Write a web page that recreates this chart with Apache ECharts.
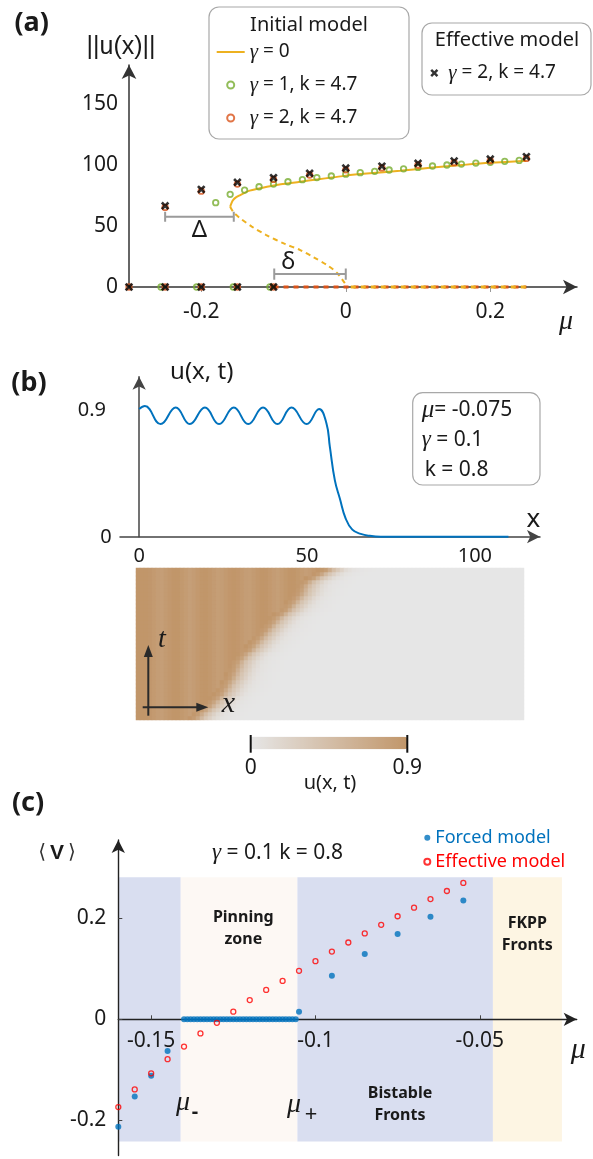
<!DOCTYPE html>
<html><head><meta charset="utf-8">
<script src="https://cdn.jsdelivr.net/npm/echarts@6.0.0/dist/echarts.min.js"></script>
<style>html,body{margin:0;padding:0;background:#fff}#c{width:593px;height:1159px}</style>
</head><body><div id="c"></div>
<script>
// ================= DATA =================
// ---- Panel (a): ||u(x)|| vs mu ----
const muG0Stable   = [-0.160,-0.158,-0.156,-0.152,-0.146,-0.140,-0.133,-0.120,-0.109,-0.090,-0.063,-0.040,-0.017,0.000,0.029,0.075,0.120,0.161,0.200,0.250];
const uG0Stable    = [65.8,69.0,71.3,73.5,75.4,77.2,79.0,80.8,82.2,84.2,86.3,88.2,89.9,91.3,93.0,95.3,97.9,100.0,101.8,103.5];
const muG0Unstable = [-0.160,-0.155,-0.146,-0.130,-0.110,-0.085,-0.063,-0.045,-0.026,-0.012,0.000];
const uG0Unstable  = [65.8,61.0,56.3,49.5,42.6,35.5,30.3,24.5,18.0,11.5,2.0];
const muG0Zero     = [0.0, 0.25];
const uG0Zero      = [0, 0];
const muG2Zero     = [-0.1, 0.25];
const uG2Zero      = [0, 0];
const muG1 = [-0.18,-0.16,-0.14,-0.12,-0.10,-0.08,-0.06,-0.04,-0.02,0.00,0.02,0.04,0.06,0.08,0.10,0.12,0.14,0.16,0.18,0.20,0.22,0.24,-0.2557,-0.2064,-0.1557,-0.105];
const uG1  = [69.1,76.0,79.5,82.2,84.4,86.3,88.0,89.7,91.0,92.5,93.7,94.8,95.9,96.9,98.0,99.2,100.0,100.8,101.6,102.2,103.0,103.8,0,0,0,0];
const muG2 = [-0.25,-0.2,-0.15,-0.1,-0.05,0,0.05,0.1,0.15,0.2,0.25,-0.3,-0.25,-0.2,-0.15,-0.1];
const uG2  = [65.2,78.6,84.4,88.2,91.8,96.1,97.6,100.0,101.9,103.5,105.4,0,0,0,0,0];
const muEff = [-0.25,-0.2,-0.15,-0.1,-0.05,0,0.05,0.1,0.15,0.2,0.25,-0.3,-0.25,-0.2,-0.15,-0.1];
const uEff  = [66.6,80.0,85.8,89.6,93.2,97.5,99.0,101.4,103.3,104.9,106.8,0,0,0,0,0];
const bracketDeltaMu = [-0.25,-0.25,-0.25,-0.155,-0.155,-0.155];
const bracketDeltaU  = [61.7,53.5,57.6,57.6,61.7,53.5];
const bracketSmallMu = [-0.099,-0.099,-0.099,0.0,0.0,0.0];
const bracketSmallU  = [15.2,6.0,10.7,10.7,15.2,6.0];
const ticksAx = [-0.2, 0, 0.2];
const ticksAy = [0, 50, 100, 150];

// ---- Panel (b): profile u(x,t) and space-time map ----
const xProfile = [0,1.7,6.4,10.9,15.1,19.6,23.8,28.2,32.5,36.9,41.2,45.4,49.9,53.6,55.8,56.8,58.3,59.8,61.5,63.5,66,68.7,72,80,110];
const uProfile = [0.907,0.928,0.80,0.918,0.80,0.918,0.80,0.918,0.80,0.918,0.80,0.918,0.80,0.907,0.805,0.64,0.40,0.27,0.13,0.05,0.02,0.006,0,0,0];
const ticksBx = [0, 50, 100];
const ticksBy = [0.9];
// front position (x) for each time row of the space-time map, bottom (t=0) to top
const frontRows = [19,20,21.5,23,24,25.3,26.5,27.3,28,28.7,29.5,30,30.5,31,31.5,32.5,33.5,35,36,37,38,39,40,41,42,43,44.5,46,47,48,49,50,50.5,51,52,54,56,58];
const heatColors = ['#e6e6e6', '#c1966a'];

// ---- Panel (c): <V> vs mu ----
const muForced = [-0.160,-0.155,-0.150,-0.145,-0.105,-0.095,-0.085,-0.075,-0.065,-0.055];
const vForced  = [-0.213,-0.153,-0.112,-0.063,0.015,0.086,0.129,0.169,0.203,0.235];
const muPinned = [-0.140,-0.139,-0.138,-0.137,-0.136,-0.135,-0.134,-0.133,-0.132,-0.131,-0.130,-0.129,-0.128,-0.127,-0.126,-0.125,-0.124,-0.123,-0.122,-0.121,-0.120,-0.119,-0.118,-0.117,-0.116,-0.115,-0.114,-0.113,-0.112,-0.111,-0.110,-0.109,-0.108,-0.107,-0.106];
const vPinned  = [0,0,0,0,0,0,0,0,0,0,0,0,0,0,0,0,0,0,0,0,0,0,0,0,0,0,0,0,0,0,0,0,0,0,0];
const muEffC = [-0.160,-0.155,-0.150,-0.145,-0.140,-0.135,-0.130,-0.125,-0.120,-0.115,-0.110,-0.105,-0.100,-0.095,-0.090,-0.085,-0.080,-0.075,-0.070,-0.065,-0.060,-0.055];
const vEffC  = [-0.174,-0.139,-0.107,-0.079,-0.054,-0.028,-0.007,0.015,0.038,0.058,0.076,0.096,0.115,0.134,0.152,0.170,0.187,0.204,0.221,0.238,0.254,0.270];
const zoneStart  = [-0.160,-0.141,-0.1055,-0.046];
const zoneEnd    = [-0.141,-0.1055,-0.046,-0.025];
const zoneColors = ['#d9def0','#fdf8f4','#d9def0','#fdf5e3'];
const zoneTop = 0.281, zoneBottom = -0.242;
const ticksCx = [-0.15, -0.1, -0.05];
const ticksCy = [-0.2, 0, 0.2];

// ================= HELPERS =================
const FONT = '"Noto Sans", sans-serif';
const SERIF = '"Liberation Serif", "DejaVu Serif", serif';
const INK = '#1a1a1a';
const zip = (a, b) => a.map((v, i) => [v, b[i]]);
function interp(xs, ys, x) {
  if (x <= xs[0]) return ys[0];
  if (x >= xs[xs.length - 1]) return ys[ys.length - 1];
  for (let i = 1; i < xs.length; i++) {
    if (x <= xs[i]) { const t = (x - xs[i-1]) / (xs[i] - xs[i-1]); return ys[i-1] + t * (ys[i] - ys[i-1]); }
  }
  return 0;
}
const xPath = 'path://M2.2,0L5,2.8L7.8,0L10,2.2L7.2,5L10,7.8L7.8,10L5,7.2L2.2,10L0,7.8L2.8,5L0,2.2Z';
// thin horizontal bar icon (tiny corner points keep a 28x7 bounding box)
const lineIcon = 'path://M0,0L0.01,0L0,0.01Z M0,2.5L28,2.5L28,4.5L0,4.5Z M28,7L27.99,7L28,6.99Z';

// space-time map cells built from the read profile and read front positions
const heatCols = 97, heatX0 = -0.4, heatDX = 1.1916;
const heatColIdx = Array.from({length: heatCols}, (_, i) => i);
const heatRowIdx = frontRows.map((_, i) => i);
const frontTop = frontRows[frontRows.length - 1];
const plateauEnd = xProfile[13];
const heatData = [];
heatRowIdx.forEach(r => {
  const shift = frontTop - frontRows[r];
  heatColIdx.forEach(c => {
    const x = heatX0 + c * heatDX;
    const u = (x + shift >= plateauEnd) ? interp(xProfile, uProfile, x + shift) : interp(xProfile, uProfile, x);
    heatData.push([c, r, +u.toFixed(3)]);
  });
});

function arrowLine(color, w, size, onZero) {
  return { show: true, onZero: !!onZero, symbol: ['none', 'arrow'], symbolSize: size || [11, 14], lineStyle: { color: color, width: w } };
}
function T(x, y, text, o) {
  o = o || {};
  return { type: 'text', x: x, y: y, z: 50, silent: true,
    style: { text: text, fill: o.fill || INK, fontSize: o.size || 20, fontFamily: o.family || FONT,
      fontWeight: o.weight || 'normal', fontStyle: o.style || 'normal', align: o.align || 'center', verticalAlign: 'middle',
      lineHeight: o.lh, rich: o.rich } };
}
const gRich = (size) => ({ g: { fontFamily: SERIF, fontStyle: 'italic', fontSize: size + 2, fill: INK },
                            m: { fontFamily: SERIF, fontStyle: 'italic', fontSize: size + 4, fill: INK } });

// ================= OPTION =================
const YEL = '#edb120', GRN = '#77ac30', ORG = '#d95319', BLU = '#0072bd', RED = '#ff0000';

const series = [
  // ---- (a)
  { name: 'γ0 unstable', type: 'line', xAxisIndex: 0, yAxisIndex: 0, data: zip(muG0Unstable, uG0Unstable), smooth: 0.3, symbol: 'none',
    lineStyle: { color: YEL, width: 2, type: [5, 4] }, z: 3, clip: false },
  { name: 'γ2 zero', type: 'line', xAxisIndex: 0, yAxisIndex: 0, data: zip(muG2Zero, uG2Zero), symbol: 'none',
    lineStyle: { color: ORG, width: 3, type: [5, 5] }, z: 3, clip: false },
  { name: 'γ0 zero', type: 'line', xAxisIndex: 0, yAxisIndex: 0, data: zip(muG0Zero, uG0Zero), symbol: 'none',
    lineStyle: { color: YEL, width: 3, type: [5, 5], dashOffset: 5 }, z: 3, clip: false },
  { name: 'γ = 0', type: 'line', xAxisIndex: 0, yAxisIndex: 0, data: zip(muG0Stable, uG0Stable), smooth: 0.3, symbol: 'none',
    itemStyle: { color: YEL }, lineStyle: { color: YEL, width: 2 }, z: 3 },
  { name: 'Δ bracket', type: 'line', xAxisIndex: 0, yAxisIndex: 0, data: zip(bracketDeltaMu, bracketDeltaU), symbol: 'none',
    lineStyle: { color: '#9b9b9b', width: 2 }, z: 3 },
  { name: 'δ bracket', type: 'line', xAxisIndex: 0, yAxisIndex: 0, data: zip(bracketSmallMu, bracketSmallU), symbol: 'none',
    lineStyle: { color: '#9b9b9b', width: 2 }, z: 3 },
  { name: 'γ = 1, k = 4.7', type: 'scatter', xAxisIndex: 0, yAxisIndex: 0, data: zip(muG1, uG1), symbol: 'circle', symbolSize: 5.5,
    itemStyle: { color: 'rgba(255,255,255,0)', borderColor: GRN, borderWidth: 1.8 }, z: 4, clip: false },
  { name: 'γ = 2, k = 4.7', type: 'scatter', xAxisIndex: 0, yAxisIndex: 0, data: zip(muG2, uG2), symbol: 'circle', symbolSize: 5.5,
    itemStyle: { color: 'rgba(255,255,255,0)', borderColor: ORG, borderWidth: 1.8 }, z: 5, clip: false },
  { name: 'eff', type: 'scatter', xAxisIndex: 0, yAxisIndex: 0, data: zip(muEff, uEff), symbol: xPath, symbolSize: 8.5,
    itemStyle: { color: '#000' }, z: 6, clip: false },
  // ---- (b) profile
  { name: 'profile', type: 'line', xAxisIndex: 1, yAxisIndex: 1, data: zip(xProfile, uProfile), smooth: 0.45, symbol: 'none',
    lineStyle: { color: BLU, width: 2 }, z: 3, clip: false },
  // ---- (b) space-time map
  { name: 'map', type: 'heatmap', xAxisIndex: 2, yAxisIndex: 2, data: heatData, progressive: 0, itemStyle: { borderWidth: 0 },
    emphasis: { disabled: true } },
  // ---- (c)
  { name: 'zones', type: 'custom', xAxisIndex: 3, yAxisIndex: 3, silent: true, z: 1,
    data: zoneStart.map((s, i) => [s, zoneEnd[i], zoneBottom, zoneTop]),
    renderItem: (params, api) => {
      const p0 = api.coord([api.value(0), api.value(3)]);
      const p1 = api.coord([api.value(1), api.value(2)]);
      return { type: 'rect', shape: { x: p0[0], y: p0[1], width: p1[0] - p0[0], height: p1[1] - p0[1] },
               style: { fill: zoneColors[params.dataIndex] } };
    } },
  { name: 'Forced model', type: 'scatter', xAxisIndex: 3, yAxisIndex: 3, data: zip(muForced, vForced).concat(zip(muPinned, vPinned)),
    symbol: 'circle', symbolSize: 6, itemStyle: { color: BLU }, z: 4, clip: false },
  { name: 'Effective model', type: 'scatter', xAxisIndex: 3, yAxisIndex: 3, data: zip(muEffC, vEffC),
    symbol: 'circle', symbolSize: 5, itemStyle: { color: 'rgba(255,255,255,0)', borderColor: RED, borderWidth: 1.3 }, z: 5, clip: false }
];
const HEAT_IDX = series.findIndex(s => s.type === 'heatmap');

const labelBase = { color: INK, fontFamily: FONT };

const option = {
  animation: false,
  backgroundColor: '#fff',
  textStyle: { fontFamily: FONT },
  grid: [
    { left: 129, top: 65, width: 448, height: 222, outerBoundsMode: 'none', containLabel: false },
    { left: 120, top: 376.7, width: 420, height: 160, outerBoundsMode: 'none', containLabel: false },
    { left: 136, top: 568, width: 388, height: 152, outerBoundsMode: 'none', containLabel: false },
    { left: 118.3, top: 840, width: 458.4, height: 315.6, outerBoundsMode: 'none', containLabel: false }
  ],
  xAxis: [
    { type: 'value', gridIndex: 0, min: -0.3, max: 0.32, z: 2, axisLine: arrowLine('#333', 1.5),
      axisTick: { show: true, customValues: ticksAx, length: 5, lineStyle: { color: '#999' } },
      axisLabel: Object.assign({ customValues: ticksAx, margin: 15, fontSize: 21 }, labelBase), splitLine: { show: false } },
    { type: 'value', gridIndex: 1, min: -5.7, max: 119.4, z: 2, axisLine: arrowLine('#444', 1.5, [10, 13]),
      axisTick: { show: false }, axisLabel: Object.assign({ customValues: ticksBx, margin: 10, fontSize: 20 }, labelBase),
      splitLine: { show: false } },
    { type: 'category', gridIndex: 2, data: heatColIdx, show: false },
    { type: 'value', gridIndex: 3, min: -0.16, max: -0.0205, z: 2, position: 'bottom', offset: -136.3,
      axisLine: arrowLine('#222', 1.4, [10, 13]),
      axisTick: { show: true, inside: true, customValues: ticksCx, length: 4, lineStyle: { color: '#444' } },
      axisLabel: Object.assign({ show: true, customValues: ticksCx, margin: 11, fontSize: 21, hideOverlap: false }, labelBase), splitLine: { show: false } }
  ],
  yAxis: [
    { type: 'value', gridIndex: 0, min: 0, max: 182, z: 2, axisLine: arrowLine('#333', 1.5),
      axisTick: { show: false }, axisLabel: Object.assign({ customValues: ticksAy, margin: 11, fontSize: 21 }, labelBase),
      splitLine: { show: false } },
    { type: 'value', gridIndex: 1, min: 0, max: 1.137, z: 2, axisLine: arrowLine('#444', 1.5, [10, 13], true),
      axisTick: { show: false },
      axisLabel: Object.assign({ customValues: ticksBy, margin: 14, fontSize: 20 }, labelBase),
      splitLine: { show: false } },
    { type: 'category', gridIndex: 2, data: heatRowIdx, show: false },
    { type: 'value', gridIndex: 3, min: -0.27, max: 0.355, z: 2, axisLine: arrowLine('#222', 1.4, [10, 13]),
      axisTick: { show: true, inside: true, customValues: ticksCy, length: 4, lineStyle: { color: '#444' } },
      axisLabel: Object.assign({ customValues: ticksCy, margin: 12, fontSize: 21 }, labelBase), splitLine: { show: false } }
  ],
  visualMap: [{
    type: 'continuous', seriesIndex: HEAT_IDX, min: 0, max: 0.9, inRange: { color: heatColors },
    orient: 'horizontal', left: 250.7, top: 736.7, itemWidth: 12.6, itemHeight: 156.6, padding: 0,
    calculable: false, hoverLink: false, realtime: false, text: ['', ''], show: true, textStyle: { fontSize: 1, color: 'rgba(0,0,0,0)' }
  }],
  legend: [
    { left: 216.7, top: 41, orient: 'vertical', itemWidth: 28, itemHeight: 7, itemGap: 11, padding: 0, selectedMode: false,
      data: [{ name: 'γ = 0', icon: lineIcon, itemStyle: { color: YEL, borderWidth: 0 } }, 'γ = 1, k = 4.7', 'γ = 2, k = 4.7'],
      formatter: n => n.replace('γ', '{g|γ}'),
      textStyle: { fontSize: 19, lineHeight: 22, color: INK, fontFamily: FONT, rich: { g: { fontFamily: SERIF, fontStyle: 'italic', fontSize: 21, color: INK, lineHeight: 22 } } } },
    { left: 430.3, top: 62, orient: 'vertical', itemWidth: 8, itemHeight: 8, padding: 0, selectedMode: false,
      data: ['eff'], formatter: () => '{g|γ} = 2, k = 4.7',
      textStyle: { fontSize: 19, lineHeight: 22, color: INK, fontFamily: FONT, padding: [0, 0, 0, 5],
        rich: { g: { fontFamily: SERIF, fontStyle: 'italic', fontSize: 21, color: INK, lineHeight: 22 } } } },
    { left: 423.3, top: 828.7, orient: 'vertical', itemWidth: 6, itemHeight: 6, itemGap: 6, padding: 0, selectedMode: false,
      data: [{ name: 'Forced model', textStyle: { color: BLU } }, { name: 'Effective model', textStyle: { color: RED } }],
      textStyle: { fontSize: 18, lineHeight: 18, fontFamily: FONT } }
  ],
  graphic: [
    // legend boxes (a)
    { type: 'rect', shape: { x: 209, y: 7, width: 200, height: 132, r: 10 }, style: { fill: '#fff', stroke: '#a8a8a8', lineWidth: 1.2 }, z: 0, silent: true },
    { type: 'rect', shape: { x: 422, y: 23, width: 169, height: 72, r: 10 }, style: { fill: '#fff', stroke: '#a8a8a8', lineWidth: 1.2 }, z: 0, silent: true },
    T(309, 25, 'Initial model', { size: 20 }),
    T(507, 40, 'Effective model', { size: 20 }),
    // panel labels
    T(31.7, 23.3, '(a)', { size: 27, weight: 'bold' }),
    T(29, 383, '(b)', { size: 27, weight: 'bold' }),
    T(28, 803, '(c)', { size: 27, weight: 'bold' }),
    // (a) annotations
    T(121, 46.7, '||u(x)||', { size: 25, family: '"Liberation Sans", sans-serif' }),
    T(566, 322, 'μ', { size: 28, family: SERIF, style: 'italic' }),
    T(199.3, 230, 'Δ', { size: 24 }),
    T(288.3, 262, 'δ', { size: 24 }),
    // (b) annotations
    T(201.7, 371.7, 'u(x, t)', { size: 24 }),
    T(533.3, 520, 'x', { size: 26 }),
    T(106, 537, '0', { size: 20 }),
    { type: 'rect', shape: { x: 412.7, y: 392.7, width: 127.3, height: 92.3, r: 10 }, style: { fill: '#fff', stroke: '#a8a8a8', lineWidth: 1.2 }, z: 0, silent: true },
    T(421.7, 410, '{m|μ}= -0.075', { size: 21, align: 'left', rich: gRich(21) }),
    T(421.7, 440, '{g|γ} = 0.1', { size: 21, align: 'left', rich: gRich(21) }),
    T(424.7, 470, 'k = 0.8', { size: 21, align: 'left' }),
    // space-time arrows
    { type: 'line', shape: { x1: 148.3, y1: 715.7, x2: 148.3, y2: 654 }, style: { stroke: '#2a2a2a', lineWidth: 2 }, z: 50, silent: true },
    { type: 'polygon', shape: { points: [[148.3, 645], [143.8, 657], [152.8, 657]] }, style: { fill: '#2a2a2a' }, z: 50, silent: true },
    { type: 'line', shape: { x1: 142.7, y1: 707.3, x2: 200, y2: 707.3 }, style: { stroke: '#2a2a2a', lineWidth: 2 }, z: 50, silent: true },
    { type: 'polygon', shape: { points: [[208.3, 707.3], [196.3, 702.8], [196.3, 711.8]] }, style: { fill: '#2a2a2a' }, z: 50, silent: true },
    T(162, 640, 't', { size: 28, family: SERIF, style: 'italic' }),
    T(228.3, 704, 'x', { size: 30, family: SERIF, style: 'italic' }),
    // colorbar ticks & labels
    { type: 'line', shape: { x1: 250.7, y1: 735, x2: 250.7, y2: 752.7 }, style: { stroke: '#111', lineWidth: 2 }, z: 50, silent: true },
    { type: 'line', shape: { x1: 407.3, y1: 735, x2: 407.3, y2: 752.7 }, style: { stroke: '#111', lineWidth: 2 }, z: 50, silent: true },
    T(250.7, 768.3, '0', { size: 21 }),
    T(407.3, 768.3, '0.9', { size: 21 }),
    T(330, 783, 'u(x, t)', { size: 20 }),
    // (c) annotations
    T(57, 853, '{b|⟨}{v|V}{b|⟩}', { size: 20, rich: { b: { fontFamily: '"DejaVu Sans"', fontSize: 20, fill: '#333' }, v: { fontWeight: 'bold', fontSize: 21, fill: INK, padding: [0, 4, 0, 4] } } }),
    T(277.5, 853, '{g|γ} = 0.1 k = 0.8', { size: 21, rich: gRich(21) }),
    T(243.3, 928.3, 'Pinning\nzone', { size: 16, weight: 'bold', lh: 21.5 }),
    T(527.3, 934, 'FKPP\nFronts', { size: 16, weight: 'bold', lh: 22 }),
    T(400, 1104.5, 'Bistable\nFronts', { size: 16, weight: 'bold', lh: 21.5 }),
    T(183, 1103, 'μ', { size: 28, family: SERIF, style: 'italic' }),
    T(195, 1112, '-', { size: 20, weight: 'bold' }),
    T(294, 1105, 'μ', { size: 28, family: SERIF, style: 'italic' }),
    T(311, 1115, '+', { size: 22 }),
    T(578.3, 1050, 'μ', { size: 30, family: SERIF, style: 'italic' })
  ],
  series: series
};

const chart = echarts.init(document.getElementById('c'), null, { renderer: 'canvas', width: 593, height: 1159 });
chart.setOption(option);
</script>
</body></html>
